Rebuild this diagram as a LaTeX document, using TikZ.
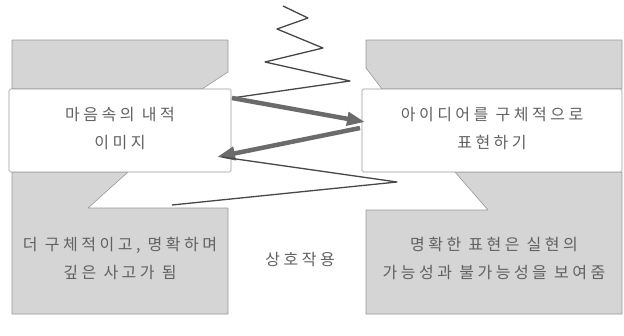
\documentclass[tikz,border=0pt]{standalone}
\usepackage{fontspec}
\newfontfamily\kr[LetterSpace=22]{Noto Sans CJK KR}
\usetikzlibrary{arrows.meta}
\begin{document}
\begin{tikzpicture}[x=1pt,y=-1pt,
  shadebox/.style={fill=gray!33, draw=gray!80, line width=0.6pt, line join=round},
  wbox/.style={fill=white, draw=gray!80, line width=0.6pt, rounded corners=1.5pt, inner sep=0pt},
  lbl/.style={font=\kr\fontsize{16}{28}\selectfont, text=black!62, align=center, inner sep=0pt},
  zig/.style={draw=black!72, line width=1.3pt, line join=round},
  bigarrow/.style={draw=black!58, line width=4.5pt, -{Triangle[length=18pt,width=13pt]}},
]
\useasboundingbox (0,0) rectangle (624,335);
% left gray shapes
\draw[shadebox] (12,40) -- (228,40) -- (228,72) -- (202,89) -- (12,89) -- cycle;
\draw[shadebox] (12,172) -- (128,172) -- (88,208) -- (228,208) -- (228,314) -- (12,314) -- cycle;
% right gray shapes
\draw[shadebox] (366,40) -- (622,40) -- (622,89) -- (382,89) -- (366,68) -- cycle;
\draw[shadebox] (455,172) -- (622,172) -- (622,314) -- (366,314) -- (366,210) -- (488,210) -- cycle;
% white boxes
\node[wbox, minimum width=222pt, minimum height=83pt] (lbox) at (120,130.5) {};
\node[wbox, minimum width=260pt, minimum height=83pt] (rbox) at (492,130.5) {};
\node[lbl] (ltext) at (120,129) {마음속의 내적\\이미지};
\node[lbl] (rtext) at (492,129) {아이디어를 구체적으로\\표현하기};
% bottom texts
\node[lbl] (lbtext) at (120,258) {더 구체적이고, 명확하며\\깊은 사고가 됨};
\node[lbl] (rbtext) at (494,258) {명확한 표현은 실현의\\가능성과 불가능성을 보여줌};
\node[lbl] (mid) at (300,260) {상호작용};
% zigzag
\coordinate (z0) at (283,6);
\coordinate (z1) at (308,18);
\coordinate (z2) at (277,29);
\coordinate (z3) at (323,48);
\coordinate (z4) at (265,62);
\coordinate (z5) at (350,81);
\coordinate (z6) at (232,98);
\coordinate (a1) at (365,122);
\coordinate (b0) at (360,128);
\coordinate (b1) at (217,157);
\coordinate (c0) at (222,157);
\coordinate (c1) at (397,182);
\coordinate (c2) at (172,205);
\draw[zig] (z0) -- (z1) -- (z2) -- (z3) -- (z4) -- (z5) -- (z6);
\draw[bigarrow] (z6) -- (a1);
\draw[bigarrow] (b0) -- (b1);
\draw[zig] (c0) -- (c1) -- (c2);
\end{tikzpicture}
\end{document}
